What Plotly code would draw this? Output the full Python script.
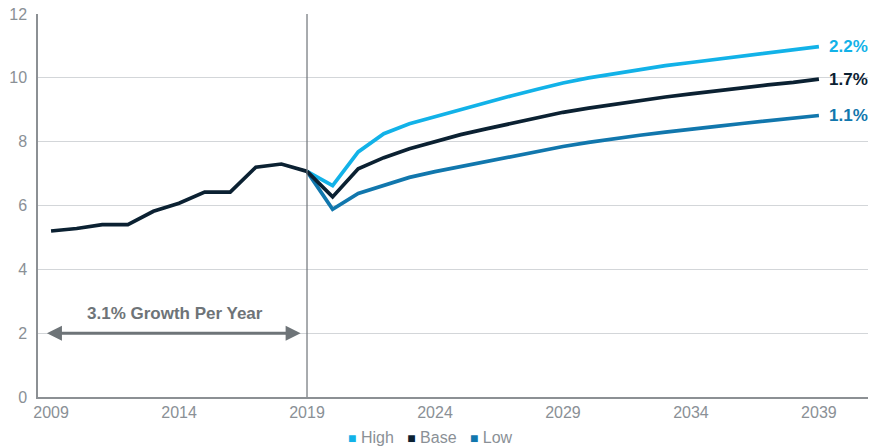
import plotly.graph_objects as go

hist_years = list(range(2009, 2020))
hist_base = [5.2, 5.28, 5.4, 5.4, 5.82, 6.07, 6.42, 6.42, 7.2, 7.3, 7.07]

proj_years = list(range(2019, 2040))
high = [7.07, 6.62, 7.68, 8.25, 8.56, 8.78, 9.02, 9.23, 9.44, 9.64, 9.84, 10.0, 10.13, 10.26, 10.38, 10.48, 10.58, 10.7, 10.8, 10.88, 10.98]
base = [7.07, 6.27, 7.15, 7.5, 7.78, 8.0, 8.22, 8.4, 8.58, 8.75, 8.92, 9.05, 9.17, 9.28, 9.4, 9.5, 9.6, 9.7, 9.78, 9.86, 9.96]
low = [7.07, 5.88, 6.38, 6.64, 6.88, 7.06, 7.22, 7.38, 7.54, 7.7, 7.85, 7.98, 8.1, 8.2, 8.3, 8.4, 8.48, 8.57, 8.65, 8.73, 8.82]

series_names = ["High", "Base", "Low"]
end_labels = {"High": "2.2%", "Base": "1.7%", "Low": "1.1%"}
x_ticks = [2009, 2014, 2019, 2024, 2029, 2034, 2039]
y_ticks = [0, 2, 4, 6, 8, 10, 12]

C_HIGH = "#12b2e8"
C_BASE = "#0b2132"
C_LOW = "#1177ad"
colors = {"High": C_HIGH, "Base": C_BASE, "Low": C_LOW}
GRAY = "#6e7478"
TICK = "#8a9096"
FONT = "Liberation Sans, Arial, sans-serif"

fig = go.Figure()
fig.add_trace(go.Scatter(x=proj_years, y=low, mode="lines", name="Low", line=dict(color=C_LOW, width=3.7), showlegend=False))
fig.add_trace(go.Scatter(x=proj_years, y=high, mode="lines", name="High", line=dict(color=C_HIGH, width=3.7), showlegend=False))
fig.add_trace(go.Scatter(x=proj_years, y=base, mode="lines", name="Base", line=dict(color=C_BASE, width=3.7), showlegend=False))
fig.add_trace(go.Scatter(x=hist_years, y=hist_base, mode="lines", name="Base", line=dict(color=C_BASE, width=3.7), showlegend=False))

for name, series in [("High", high), ("Base", base), ("Low", low)]:
    fig.add_annotation(x=proj_years[-1], y=series[-1], text="<b>%s</b>" % end_labels[name],
                       showarrow=False, xanchor="left", xshift=8,
                       font=dict(family=FONT, size=17, color=colors[name]))

# legend built as text with coloured squares
legend_text = "&nbsp;&nbsp;&nbsp;".join(
    "<span style='color:%s;font-size:14px'>■</span>&nbsp;%s" % (colors[n], n) for n in series_names)
fig.add_annotation(x=0.468, y=-0.105, xref="paper", yref="paper", text=legend_text,
                   showarrow=False, xanchor="center", yanchor="middle",
                   font=dict(family=FONT, size=16, color=TICK))

# vertical divider at 2019
fig.add_shape(type="line", x0=2019, x1=2019, y0=0, y1=12, xref="x", yref="y",
              line=dict(color=GRAY, width=1.2))

# double-headed arrow
fig.add_annotation(x=2018.75, y=2, ax=2008.78, ay=2, xref="x", yref="y", axref="x", ayref="y",
                   text="", showarrow=True, arrowhead=2, arrowside="end+start",
                   arrowsize=1, arrowwidth=3, arrowcolor=GRAY)
fig.add_annotation(x=2013.85, y=2.62, xref="x", yref="y", text="<b>3.1% Growth Per Year</b>",
                   showarrow=False, font=dict(family=FONT, size=17, color=GRAY))

# page body has an 8px default margin, so the figure is sized to fit inside the window
fig.update_layout(
    width=868, height=439,
    margin=dict(l=30, r=0, t=6, b=50, autoexpand=False),
    plot_bgcolor="white", paper_bgcolor="white",
    font=dict(family=FONT, size=16, color=TICK),
    showlegend=False,
)
fig.update_xaxes(range=[2008.49, 2041.23], tickvals=x_ticks, ticktext=[str(v) for v in x_ticks],
                 showgrid=False, zeroline=False, showline=True, linecolor="#8c9094", linewidth=1.5,
                 ticks="", automargin=False, tickfont=dict(family=FONT, size=16, color=TICK))
fig.update_yaxes(range=[0, 12], tickvals=y_ticks, showgrid=True, gridcolor="#d3d6d9", gridwidth=1.3,
                 zeroline=False, showline=True, linecolor="#8c9094", linewidth=1.5,
                 ticks="", ticklabelstandoff=6, automargin=False, ticklabeloverflow="allow",
                 tickfont=dict(family=FONT, size=16, color=TICK))

fig.write_html("out.html")
